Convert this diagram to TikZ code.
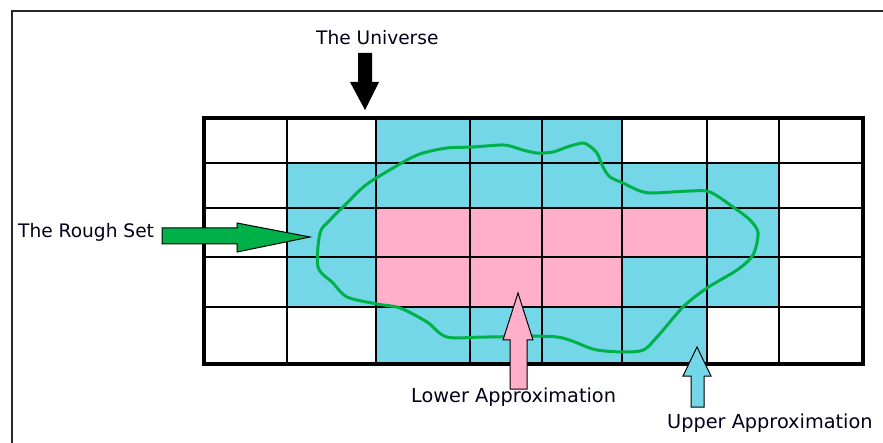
\documentclass[tikz,border=0pt]{standalone}
\usepackage{fontspec}
\setmainfont{DejaVu Sans}
\definecolor{cyanc}{RGB}{116,215,232}
\definecolor{pinkc}{RGB}{255,175,202}
\definecolor{greenc}{RGB}{0,176,72}
\definecolor{framec}{RGB}{40,40,40}
\begin{document}
\begin{tikzpicture}[x=1pt,y=-1pt,
  lbl/.style={inner sep=0pt,anchor=base west,font=\fontsize{18.6}{22}\selectfont,text=black!90!blue},
  lblw/.style={lbl,font=\fontsize{19.3}{22}\selectfont},
  gridline/.style={line width=1.6pt,black},
  blockarrow/.style={draw=black,line width=1pt,line join=miter}]
\useasboundingbox (0,0) rectangle (883,443);
\fill[white] (0,0) rectangle (883,443);
% outer frame (cropped)
\draw[framec,line width=1.8pt] (12,443) -- (12,11) -- (884,11);
% cells
\fill[cyanc] (376,118) rectangle (622,163);
\fill[cyanc] (287,163) rectangle (779,208);
\fill[cyanc] (287,208) rectangle (376,257);
\fill[pinkc] (376,208) rectangle (707,257);
\fill[cyanc] (707,208) rectangle (779,257);
\fill[cyanc] (287,257) rectangle (376,307);
\fill[pinkc] (376,257) rectangle (622,307);
\fill[cyanc] (622,257) rectangle (779,307);
\fill[cyanc] (376,307) rectangle (707,364);
% grid
\foreach \x in {287,376,470,542,622,707,779} \draw[gridline] (\x,118) -- (\x,364);
\foreach \y in {163,208,257,307} \draw[gridline] (204,\y) -- (863,\y);
\draw[line width=4pt,black] (204,118) rectangle (863,364);
% rough set curve
\draw[greenc,line width=3pt,line join=round] plot[smooth cycle,tension=0.5] coordinates {
 (320,233) (318,267) (333,283) (347,297) (377,304) (400,308) (427,322) (447,337)
 (487,337) (557,337) (597,350) (640,351) (657,337) (683,307) (707,288) (737,270)
 (753,255) (758,233) (750,220) (733,207) (710,192) (690,191) (653,193) (640,191)
 (623,183) (610,177) (603,167) (597,153) (588,145) (582,143) (567,147) (553,152)
 (537,153) (523,150) (510,146) (500,145) (473,147) (447,148) (423,153) (407,160)
 (373,180) (360,190) (347,203) (330,220)};
% labels
\node[lbl] (univ) at (316,45) {The Universe};
\node[lbl] (rough) at (18,238) {The Rough Set};
\node[lblw] (lower) at (411,402) {Lower Approximation};
\node[lblw] (upper) at (667,428) {Upper Approximation};
% arrows
\coordinate (univtip) at (365,110);
\fill[black] (358,53) -- (372,53) -- (372,82) -- (379,82) -- (univtip) -- (350,82) -- (358,82) -- cycle;
\coordinate (roughtip) at (310,237);
\filldraw[fill=greenc,blockarrow] (162,228) -- (237,228) -- (237,223) -- (roughtip) -- (237,252) -- (237,244) -- (162,244) -- cycle;
\coordinate (lowertip) at (518,293);
\filldraw[fill=pinkc,blockarrow] (510,389) -- (510,340) -- (503,340) -- (lowertip) -- (533,340) -- (527,340) -- (527,389) -- cycle;
\coordinate (uppertip) at (697,347);
\filldraw[fill=cyanc,blockarrow] (691,407) -- (691,376) -- (683,376) -- (uppertip) -- (711,376) -- (704,376) -- (704,407) -- cycle;
\end{tikzpicture}
\end{document}
